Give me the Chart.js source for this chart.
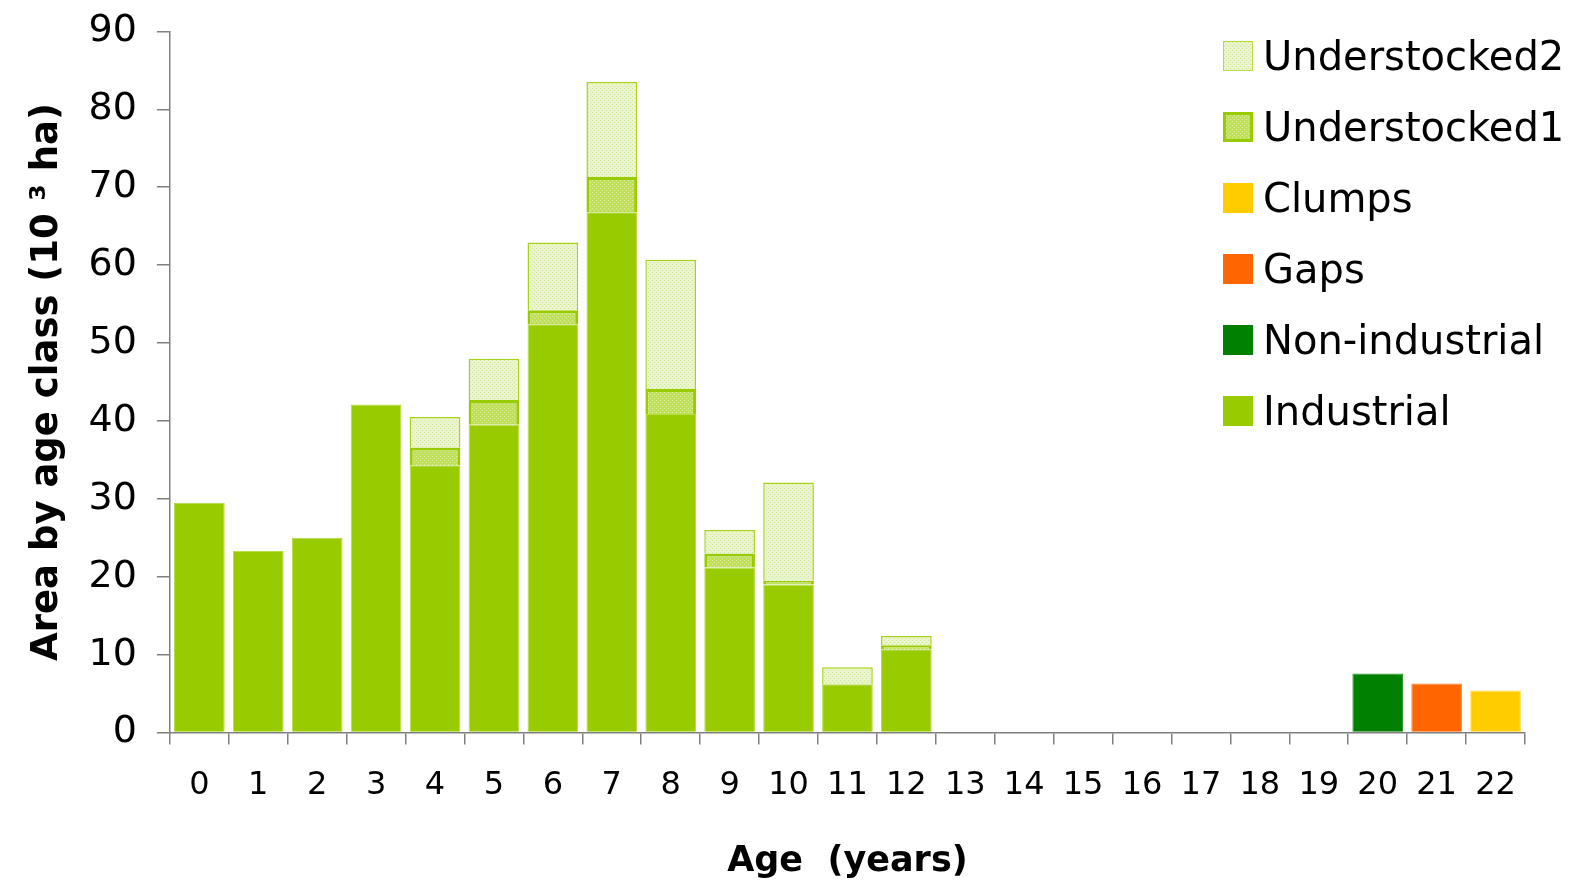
<!DOCTYPE html>
<html>
<head>
<meta charset="utf-8">
<script src="https://cdn.jsdelivr.net/npm/chart.js@4"></script>
<style>
  body { margin: 0; background: #fff; }
  #wrap { position: relative; width: 1573px; height: 883px; }
  #legend { position: absolute; left: 1223px; top: 20px; font-family: "DejaVu Sans", sans-serif; font-size: 40px; color: #000; }
  .item { display: flex; align-items: center; height: 71px; }
  .box { width: 30px; height: 30px; margin-right: 10px; box-sizing: border-box; }
</style>
</head>
<body>
<div id="wrap">
  <canvas id="chart" width="1573" height="883"></canvas>
  <div id="legend"></div>
</div>
<script>
// Data
const ages = ['0','1','2','3','4','5','6','7','8','9','10','11','12','13','14','15','16','17','18','19','20','21','22'];
const industrial    = [29.5, 23.3, 25.0, 42.1, 34.3, 39.5, 52.4, 66.8, 40.9, 21.2, 19.0, 6.2, 10.7, null, null, null, null, null, null, null, null, null, null];
const understocked1 = [null, null, null, null, 2.3, 3.2, 1.8, 4.5, 3.2, 1.8, 0.5, null, 0.5, null, null, null, null, null, null, null, null, null, null];
const understocked2 = [null, null, null, null, 3.9, 5.3, 8.7, 12.2, 16.6, 3.0, 12.6, 2.2, 1.2, null, null, null, null, null, null, null, null, null, null];
const nonIndustrial = [null, null, null, null, null, null, null, null, null, null, null, null, null, null, null, null, null, null, null, null, 7.6, null, null];
const gaps          = [null, null, null, null, null, null, null, null, null, null, null, null, null, null, null, null, null, null, null, null, null, 6.3, null];
const clumps        = [null, null, null, null, null, null, null, null, null, null, null, null, null, null, null, null, null, null, null, null, null, null, 5.4];

const FONT = 'DejaVu Sans';

// Dotted fills like the Excel patterns
function makePattern(base, dot) {
    const c = document.createElement('canvas');
    c.width = 4; c.height = 4;
    const g = c.getContext('2d');
    g.fillStyle = base;
    g.fillRect(0, 0, 4, 4);
    g.fillStyle = dot;
    g.fillRect(0, 0, 1, 1);
    g.fillRect(2, 2, 1, 1);
    return { canvas: c, pattern: document.getElementById('chart').getContext('2d').createPattern(c, 'repeat') };
}
const u2 = makePattern('#eaf4d0', '#cfe693');
const u1 = makePattern('#bfe057', '#dcee9f');

const datasets = [
    { label: 'Industrial', data: industrial, backgroundColor: '#99cc00', borderColor: '#b5dc44', borderWidth: 1 },
    { label: 'Understocked1', data: understocked1, backgroundColor: u1.pattern, borderColor: '#99cc00', borderWidth: 3 },
    { label: 'Understocked2', data: understocked2, backgroundColor: u2.pattern, borderColor: '#a6d21c', borderWidth: 1.5 },
    { label: 'Non-industrial', data: nonIndustrial, backgroundColor: '#008000', borderColor: '#2a9a2a', borderWidth: 1 },
    { label: 'Gaps', data: gaps, backgroundColor: '#ff6600', borderColor: '#ff8533', borderWidth: 1 },
    { label: 'Clumps', data: clumps, backgroundColor: '#ffcc00', borderColor: '#ffdb4d', borderWidth: 1 }
];

const chart = new Chart(document.getElementById('chart').getContext('2d'), {
    type: 'bar',
    data: { labels: ages, datasets: datasets },
    options: {
        responsive: false,
        animation: false,
        layout: { padding: { top: 1, right: 48, left: 22, bottom: 0 } },
        datasets: { bar: { barPercentage: 0.86, categoryPercentage: 1, skipNull: true } },
        plugins: { legend: { display: false }, tooltip: { enabled: false } },
        scales: {
            x: {
                stacked: true,
                grid: { drawOnChartArea: false, drawTicks: true, tickLength: 12, color: '#808080', lineWidth: 1.5 },
                border: { color: '#808080', width: 1.5 },
                ticks: { color: '#000', font: { family: FONT, size: 32 }, padding: 22, maxRotation: 0, autoSkip: false },
                title: { display: true, text: 'Age  (years)', color: '#000', font: { family: FONT, size: 35, weight: 'bold' }, padding: { top: 14, bottom: 0 } }
            },
            y: {
                stacked: true,
                min: 0, max: 90,
                grid: { drawOnChartArea: false, drawTicks: true, tickLength: 13, color: '#808080', lineWidth: 1.5 },
                border: { color: '#808080', width: 1.5 },
                ticks: { stepSize: 10, color: '#000', font: { family: FONT, size: 38, lineHeight: 0.6 }, padding: 20 },
                title: { display: true, text: 'Area by age class (10 ³ ha)', color: '#000', font: { family: FONT, size: 37, weight: 'bold', lineHeight: 1.15 }, padding: { top: 4, bottom: 0 } }
            }
        }
    }
});

// Legend in the chart's order (top to bottom)
const legendOrder = [
    { label: 'Understocked2', css: 'border:1.5px solid #b5dc44;background:url(' + u2.canvas.toDataURL() + ')' },
    { label: 'Understocked1', css: 'border:3px solid #99cc00;background:url(' + u1.canvas.toDataURL() + ')' },
    { label: 'Clumps', css: 'background:#ffcc00' },
    { label: 'Gaps', css: 'background:#ff6600' },
    { label: 'Non-industrial', css: 'background:#008000' },
    { label: 'Industrial', css: 'background:#99cc00' }
];
const legend = document.getElementById('legend');
legendOrder.forEach(item => {
    const row = document.createElement('div');
    row.className = 'item';
    row.innerHTML = `<div class="box" style="${item.css}"></div><span>${item.label}</span>`;
    legend.appendChild(row);
});
</script>
</body>
</html>
